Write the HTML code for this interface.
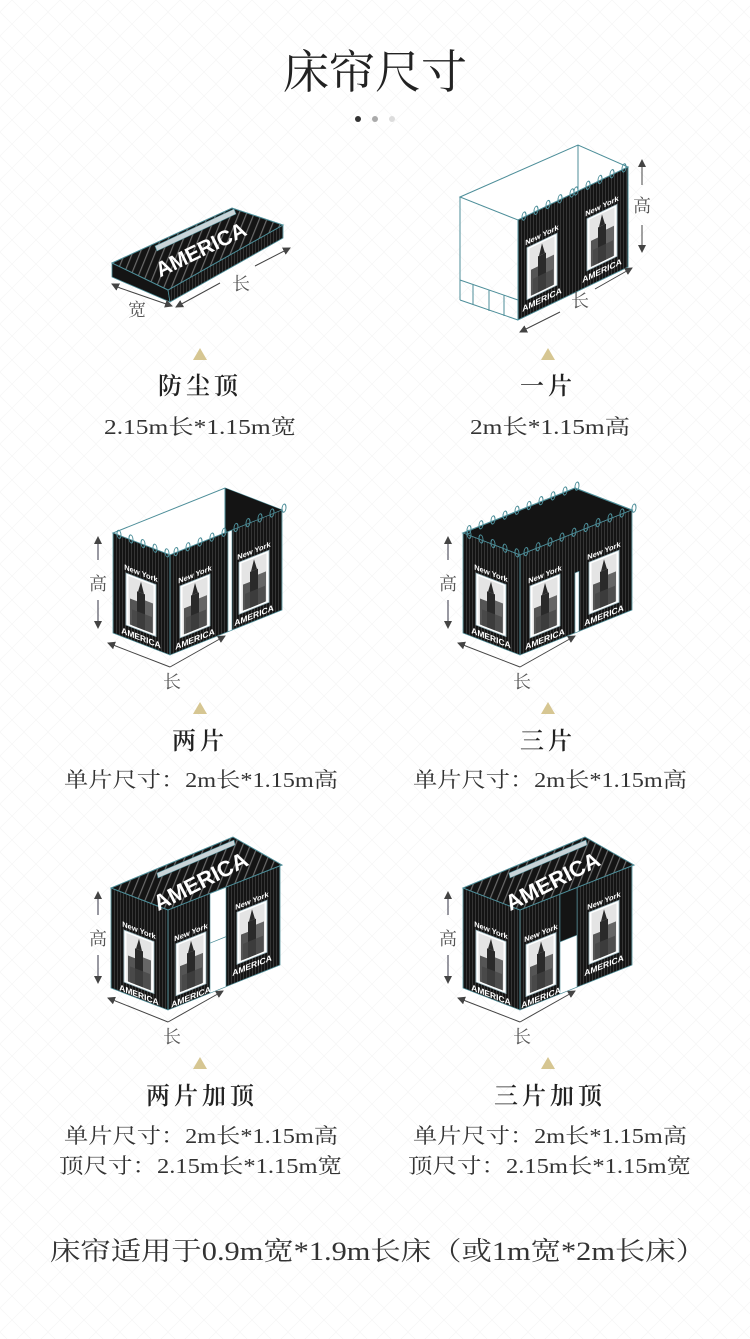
<!DOCTYPE html>
<html><head><meta charset="utf-8"><style>
html,body{margin:0;padding:0;background:#fff;}
svg{display:block;}
.t{font-family:"Liberation Serif","Noto Serif CJK SC",serif;fill:#333;}
.h{font-family:"Liberation Serif","Noto Serif CJK SC",serif;fill:#222;font-weight:600;}
.a{font-family:"Liberation Serif","Noto Serif CJK SC",serif;fill:#555;font-size:18px;}
</style></head><body>
<svg width="750" height="1339" viewBox="0 0 750 1339" xmlns="http://www.w3.org/2000/svg">
<defs>
<pattern id="bg" width="24" height="24" patternUnits="userSpaceOnUse">
<path d="M0 12 L12 0 L24 12 L12 24 Z" fill="none" stroke="#f8f8f8" stroke-width="1"/>
</pattern>
<pattern id="st" width="3" height="10" patternUnits="userSpaceOnUse">
<rect width="3" height="10" fill="#141414"/><rect x="0" width="0.8" height="10" fill="#3c3c3c"/>
</pattern>
<pattern id="rs" width="7" height="10" patternUnits="userSpaceOnUse" patternTransform="rotate(22)">
<rect width="7" height="10" fill="#141414"/><rect width="1.2" height="10" fill="#6a6a6a"/>
</pattern>
<marker id="ar" markerWidth="8" markerHeight="8" refX="7" refY="4" orient="auto" markerUnits="userSpaceOnUse">
<path d="M0 0 L8 4 L0 8 Z" fill="#444"/>
</marker>
<g id="poster">
<text x="17" y="7" font-size="7.5" font-weight="bold" fill="#fff" text-anchor="middle" font-family="Liberation Sans,sans-serif">New York</text>
<rect x="2" y="10" width="30" height="52" fill="#fff" stroke="#9bb8c0" stroke-width="0.8"/>
<rect x="4.5" y="12" width="25" height="48" fill="#e4e4e4"/>
<rect x="6" y="34" width="8" height="26" fill="#555"/>
<rect x="21" y="30" width="8" height="30" fill="#666"/>
<rect x="13" y="24" width="8" height="36" fill="#2a2a2a"/>
<polygon points="14,24 17,13 20,24" fill="#2a2a2a"/>
<rect x="8" y="44" width="20" height="16" fill="#444" opacity="0.7"/>
<text x="17" y="72" font-size="8.5" font-weight="bold" fill="#fff" text-anchor="middle" font-family="Liberation Sans,sans-serif">AMERICA</text>
</g>
<g id="hooks">
<ellipse cx="6" cy="1" rx="2" ry="4" fill="none" stroke="#4d8e99" stroke-width="1"/>
<ellipse cx="18" cy="1" rx="2" ry="4" fill="none" stroke="#4d8e99" stroke-width="1"/>
<ellipse cx="30" cy="1" rx="2" ry="4" fill="none" stroke="#4d8e99" stroke-width="1"/>
<ellipse cx="42" cy="1" rx="2" ry="4" fill="none" stroke="#4d8e99" stroke-width="1"/>
<ellipse cx="54" cy="1" rx="2" ry="4" fill="none" stroke="#4d8e99" stroke-width="1"/>
</g>
</defs>
<rect width="750" height="1339" fill="#fff"/>
<rect width="750" height="1339" fill="url(#bg)"/>

<!-- Title -->
<text x="375" y="88" text-anchor="middle" font-size="46" font-family="Liberation Serif,Noto Serif CJK SC,serif" fill="#222" font-weight="400">床帘尺寸</text>
<circle cx="358" cy="119" r="3" fill="#333"/><circle cx="375" cy="119" r="3" fill="#aaa"/><circle cx="392" cy="119" r="3" fill="#ddd"/>

<!-- Fig 1 slab -->
<g>
<polygon points="112,263 168,290 170,302 112,277" fill="#141414" stroke="#4d8e99" stroke-width="0.8"/>
<polygon points="168,290 283,225 283,238 170,302" fill="url(#st)" stroke="#4d8e99" stroke-width="0.8"/>
<polygon points="112,263 232,208 283,225 168,290" fill="url(#rs)" stroke="#4d8e99" stroke-width="1"/>
<polygon points="155,246 234,209 236,214 157,251" fill="#c9d4d8" stroke="#4d8e99" stroke-width="0.6"/>
<text x="0" y="0" font-size="21" font-weight="bold" fill="#fff" font-family="Liberation Sans,sans-serif" text-anchor="middle" transform="translate(204,256) rotate(-26)">AMERICA</text>
<line x1="120" y1="288" x2="112" y2="284" stroke="#444" marker-end="url(#ar)"/>
<line x1="120" y1="288" x2="172" y2="306" stroke="#444" marker-end="url(#ar)"/>
<text class="a" x="128" y="316">宽</text>
<line x1="220" y1="283" x2="176" y2="307" stroke="#444" marker-end="url(#ar)"/>
<line x1="255" y1="266" x2="290" y2="248" stroke="#444" marker-end="url(#ar)"/>
<text class="a" x="232" y="290">长</text>
</g>

<!-- Fig 2 one piece -->
<g fill="none" stroke="#4d8e99" stroke-width="1">
<polygon points="460,197 578,145 628,167 518,220" fill="#fff"/>
<line x1="460" y1="197" x2="460" y2="300"/>
<line x1="460" y1="300" x2="518" y2="320"/>
<line x1="460" y1="280" x2="518" y2="300"/>
<line x1="473" y1="285" x2="473" y2="305"/><line x1="489" y1="290" x2="489" y2="311"/><line x1="504" y1="295" x2="504" y2="316"/>
<line x1="578" y1="145" x2="578" y2="190"/>
</g>
<g transform="matrix(1,-0.482,0,1,518,220)">
<rect width="110" height="100" fill="url(#st)" stroke="#4d8e99" stroke-width="1"/>
<use href="#poster" x="7" y="22"/><use href="#poster" x="67" y="22"/>
<use href="#hooks" x="0" y="-2"/><use href="#hooks" x="52" y="-2"/>
</g>
<line x1="642" y1="185" x2="642" y2="160" stroke="#444" marker-end="url(#ar)"/>
<text class="a" x="633" y="212">高</text>
<line x1="642" y1="225" x2="642" y2="252" stroke="#444" marker-end="url(#ar)"/>
<line x1="560" y1="312" x2="520" y2="332" stroke="#444" marker-end="url(#ar)"/>
<text class="a" x="571" y="307">长</text>
<line x1="595" y1="289" x2="632" y2="268" stroke="#444" marker-end="url(#ar)"/>

<!-- Row2 left: two pieces -->
<g transform="translate(170,655)">
<polygon points="0,-100 -57,-122 55,-167 112,-145" fill="#fff" stroke="#4d8e99" stroke-width="1"/>
<polygon points="55,-167 112,-145 55,-122" fill="#141414"/>
<line x1="55" y1="-167" x2="55" y2="-122" stroke="#4d8e99"/>
<g transform="matrix(1,0.386,0,1,-57,-122)">
<rect width="57" height="100" fill="url(#st)" stroke="#4d8e99" stroke-width="0.8"/>
<use href="#poster" x="11" y="25"/><use href="#hooks" x="0" y="-2"/>
</g>
<g transform="matrix(1,-0.402,0,1,0,-100)">
<rect width="112" height="100" fill="url(#st)" stroke="#4d8e99" stroke-width="0.8"/>
<rect x="58" y="0" width="4" height="100" fill="#fff" stroke="#4d8e99" stroke-width="0.6"/>
<use href="#poster" x="8" y="25"/><use href="#poster" x="67" y="25"/>
<use href="#hooks" x="0" y="-2"/><use href="#hooks" x="60" y="-2"/>
</g>
</g>
<line x1="98" y1="560" x2="98" y2="537" stroke="#334" marker-end="url(#ar)"/>
<text class="a" x="89" y="590">高</text>
<line x1="98" y1="600" x2="98" y2="628" stroke="#334" marker-end="url(#ar)"/>
<polyline points="170,667 225,636" fill="none" stroke="#444" marker-end="url(#ar)"/>
<polyline points="170,667 108,643" fill="none" stroke="#444" marker-end="url(#ar)"/>
<text class="a" x="163" y="688">长</text>

<!-- Row2 right: three pieces -->
<g transform="translate(520,655)">
<polygon points="0,-100 -57,-122 55,-167 112,-145" fill="#141414" stroke="#4d8e99" stroke-width="1.2"/>
<g transform="matrix(1,-0.402,0,1,-57,-122)"><use href="#hooks" x="0" y="-2"/><use href="#hooks" x="60" y="-2"/></g>
<g transform="matrix(1,0.386,0,1,-57,-122)">
<rect width="57" height="100" fill="url(#st)" stroke="#4d8e99" stroke-width="0.8"/>
<use href="#poster" x="11" y="25"/><use href="#hooks" x="0" y="-2"/>
</g>
<g transform="matrix(1,-0.402,0,1,0,-100)">
<rect width="112" height="100" fill="url(#st)" stroke="#4d8e99" stroke-width="0.8"/>
<rect x="55" y="40" width="4" height="60" fill="#fff" stroke="#4d8e99" stroke-width="0.6"/>
<use href="#poster" x="8" y="25"/><use href="#poster" x="67" y="25"/>
<use href="#hooks" x="0" y="-2"/><use href="#hooks" x="60" y="-2"/>
</g>
</g>
<line x1="448" y1="560" x2="448" y2="537" stroke="#334" marker-end="url(#ar)"/>
<text class="a" x="439" y="590">高</text>
<line x1="448" y1="600" x2="448" y2="628" stroke="#334" marker-end="url(#ar)"/>
<polyline points="520,667 575,636" fill="none" stroke="#444" marker-end="url(#ar)"/>
<polyline points="520,667 458,643" fill="none" stroke="#444" marker-end="url(#ar)"/>
<text class="a" x="513" y="688">长</text>

<!-- Row3 left: two pieces + top -->
<g transform="translate(168,1010)">
<g transform="matrix(1,0.386,0,1,-57,-122)">
<rect width="57" height="100" fill="url(#st)" stroke="#4d8e99" stroke-width="0.8"/>
<use href="#poster" x="11" y="27"/>
</g>
<g transform="matrix(1,-0.402,0,1,0,-100)">
<rect width="112" height="100" fill="url(#st)" stroke="#4d8e99" stroke-width="0.8"/>
<rect x="42" y="0" width="16" height="100" fill="#fff" stroke="#4d8e99" stroke-width="0.6"/>
<line x1="42" y1="50" x2="58" y2="50" stroke="#4d8e99" stroke-width="0.8"/>
<use href="#poster" x="6" y="27"/><use href="#poster" x="67" y="20"/>
</g>
<polygon points="0,-100 -57,-122 65,-173 114,-145" fill="url(#rs)" stroke="#4d8e99" stroke-width="1"/>
<polygon points="-11,-137 66,-170 67,-165 -10,-132" fill="#c9d4d8" stroke="#4d8e99" stroke-width="0.6"/>
<text font-size="22" font-weight="bold" fill="#fff" font-family="Liberation Sans,sans-serif" text-anchor="middle" transform="translate(36,-122) rotate(-27)">AMERICA</text>
</g>
<line x1="98" y1="915" x2="98" y2="892" stroke="#334" marker-end="url(#ar)"/>
<text class="a" x="89" y="945">高</text>
<line x1="98" y1="955" x2="98" y2="983" stroke="#334" marker-end="url(#ar)"/>
<polyline points="168,1022 223,991" fill="none" stroke="#444" marker-end="url(#ar)"/>
<polyline points="168,1022 108,998" fill="none" stroke="#444" marker-end="url(#ar)"/>
<text class="a" x="163" y="1043">长</text>

<!-- Row3 right: three pieces + top -->
<g transform="translate(520,1010)">
<g transform="matrix(1,0.386,0,1,-57,-122)">
<rect width="57" height="100" fill="url(#st)" stroke="#4d8e99" stroke-width="0.8"/>
<use href="#poster" x="11" y="27"/>
</g>
<g transform="matrix(1,-0.402,0,1,0,-100)">
<rect width="112" height="100" fill="url(#st)" stroke="#4d8e99" stroke-width="0.8"/>
<rect x="40" y="0" width="17" height="100" fill="#fff" stroke="#4d8e99" stroke-width="0.6"/>
<rect x="40" y="0" width="17" height="48" fill="#141414" stroke="#4d8e99" stroke-width="0.6"/>
<use href="#poster" x="4" y="27"/><use href="#poster" x="67" y="20"/>
</g>
<polygon points="0,-100 -57,-122 65,-173 114,-145" fill="url(#rs)" stroke="#4d8e99" stroke-width="1"/>
<polygon points="-11,-137 66,-170 67,-165 -10,-132" fill="#c9d4d8" stroke="#4d8e99" stroke-width="0.6"/>
<text font-size="22" font-weight="bold" fill="#fff" font-family="Liberation Sans,sans-serif" text-anchor="middle" transform="translate(36,-122) rotate(-27)">AMERICA</text>
</g>
<line x1="448" y1="915" x2="448" y2="892" stroke="#334" marker-end="url(#ar)"/>
<text class="a" x="439" y="945">高</text>
<line x1="448" y1="955" x2="448" y2="983" stroke="#334" marker-end="url(#ar)"/>
<polyline points="520,1022 575,991" fill="none" stroke="#444" marker-end="url(#ar)"/>
<polyline points="520,1022 458,998" fill="none" stroke="#444" marker-end="url(#ar)"/>
<text class="a" x="513" y="1043">长</text>

<!-- triangles -->
<g fill="#d6c692">
<polygon points="200,348 193,360 207,360"/><polygon points="548,348 541,360 555,360"/>
<polygon points="200,702 193,714 207,714"/><polygon points="548,702 541,714 555,714"/>
<polygon points="200,1057 193,1069 207,1069"/><polygon points="548,1057 541,1069 555,1069"/>
</g>

<!-- labels -->
<g font-size="24" text-anchor="middle">
<text class="h" x="200" y="394" letter-spacing="4">防尘顶</text>
<text class="h" x="548" y="394" letter-spacing="4">一片</text>
<text class="h" x="200" y="749" letter-spacing="4">两片</text>
<text class="h" x="548" y="749" letter-spacing="4">三片</text>
<text class="h" x="202" y="1104" letter-spacing="4">两片加顶</text>
<text class="h" x="550" y="1104" letter-spacing="4">三片加顶</text>
</g>
<g font-size="21">
<text class="t" x="104" y="434" textLength="192" lengthAdjust="spacingAndGlyphs">2.15m长*1.15m宽</text>
<text class="t" x="470" y="434" textLength="160" lengthAdjust="spacingAndGlyphs">2m长*1.15m高</text>
<text class="t" x="64" y="787" textLength="274" lengthAdjust="spacingAndGlyphs">单片尺寸：2m长*1.15m高</text>
<text class="t" x="413" y="787" textLength="274" lengthAdjust="spacingAndGlyphs">单片尺寸：2m长*1.15m高</text>
<text class="t" x="64" y="1143" textLength="274" lengthAdjust="spacingAndGlyphs">单片尺寸：2m长*1.15m高</text>
<text class="t" x="413" y="1143" textLength="274" lengthAdjust="spacingAndGlyphs">单片尺寸：2m长*1.15m高</text>
<text class="t" x="59" y="1173" textLength="283" lengthAdjust="spacingAndGlyphs">顶尺寸：2.15m长*1.15m宽</text>
<text class="t" x="408" y="1173" textLength="283" lengthAdjust="spacingAndGlyphs">顶尺寸：2.15m长*1.15m宽</text>
</g>
<text class="t" x="50" y="1260" font-size="26" textLength="656" lengthAdjust="spacingAndGlyphs">床帘适用于0.9m宽*1.9m长床（或1m宽*2m长床）</text>
</svg>
</body></html>
